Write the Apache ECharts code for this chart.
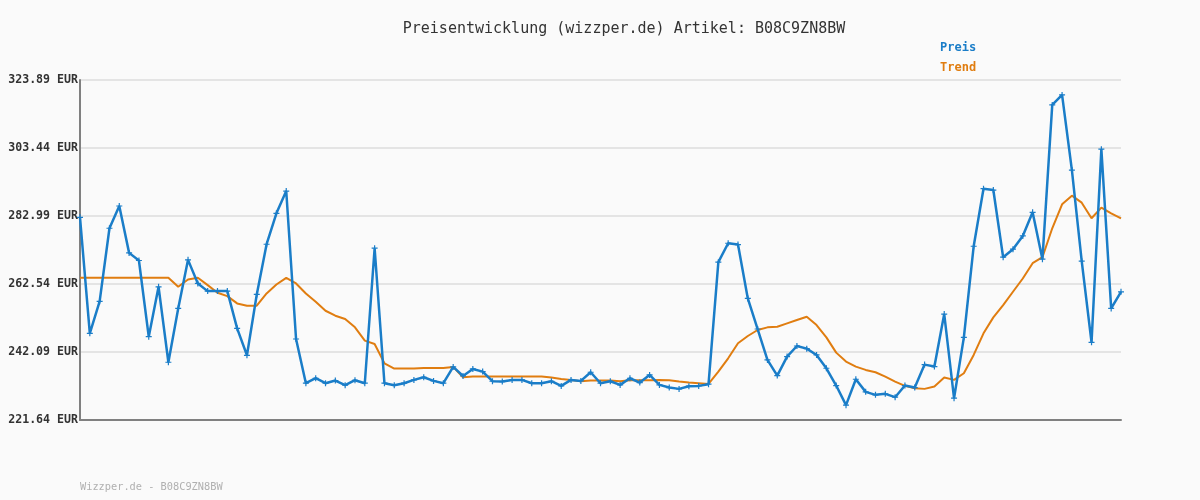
<!DOCTYPE html>
<html>
<head>
<meta charset="utf-8">
<script src="https://cdn.jsdelivr.net/npm/echarts@6/dist/echarts.min.js"></script>
<style>
  html, body { margin: 0; padding: 0; background: #fafafa; }
  #chart { width: 1200px; height: 500px; }
</style>
</head>
<body>
<div id="chart"></div>
<script>
// Preis pro Abruf (107 Messpunkte)
const preis = [
  282.6, 247.7, 257.3, 279.3, 286.0, 271.9, 269.6, 246.7, 261.7, 239.0,
  255.2, 269.8, 262.7, 260.4, 260.4, 260.4, 249.2, 241.1, 259.4, 274.5,
  283.8, 290.5, 246.0, 232.7, 234.2, 232.7, 233.5, 232.1, 233.6, 232.7,
  273.3, 232.7, 232.1, 232.7, 233.7, 234.5, 233.4, 232.7, 237.6, 234.9,
  237.0, 236.2, 233.3, 233.2, 233.7, 233.7, 232.7, 232.7, 233.3, 231.9,
  233.7, 233.4, 236.0, 232.7, 233.3, 232.2, 234.2, 232.9, 235.2, 232.2,
  231.4, 231.0, 231.8, 231.9, 232.4, 269.1, 274.8, 274.4, 258.2, 249.0,
  239.7, 235.0, 240.7, 243.9, 243.1, 241.2, 237.2, 232.0, 226.1, 233.9,
  230.1, 229.2, 229.5, 228.5, 232.0, 231.4, 238.3, 237.7, 253.5, 228.2,
  246.5, 273.9, 291.2, 290.8, 270.6, 273.0, 277.0, 284.1, 270.0, 316.4,
  319.4, 296.8, 269.4, 245.0, 303.1, 255.2, 260.2
];
const trend = [
  264.4, 264.4, 264.4, 264.4, 264.4, 264.4, 264.4, 264.4, 264.4, 264.4,
  261.7, 263.9, 264.4, 262.2, 259.9, 258.9, 256.7, 256.0, 256.0, 259.7,
  262.4, 264.4, 262.7, 259.7, 257.2, 254.5, 253.0, 252.0, 249.5, 245.5,
  244.5, 238.7, 237.1, 237.1, 237.1, 237.3, 237.3, 237.3, 237.6, 234.5,
  234.7, 234.7, 234.7, 234.7, 234.7, 234.7, 234.7, 234.7, 234.4, 234.0,
  233.7, 233.3, 233.5, 233.5, 233.5, 233.3, 233.6, 233.6, 233.6, 233.7,
  233.6, 233.2, 232.9, 232.7, 232.5, 236.2, 240.2, 244.7, 246.9, 248.7,
  249.5, 249.7, 250.7, 251.7, 252.7, 250.2, 246.5, 241.9, 239.2, 237.7,
  236.7, 236.0, 234.7, 233.2, 231.9, 231.2, 231.0, 231.7, 234.4, 233.7,
  235.7, 241.2, 247.7, 252.5, 256.2, 260.2, 264.2, 268.8, 270.6, 279.3,
  286.5, 289.1, 287.0, 282.3, 285.5, 283.8, 282.3
];
const kategorien = preis.map((_, i) => String(i + 1));
const yTicks = [221.64, 242.09, 262.54, 282.99, 303.44, 323.89];

const chart = echarts.init(document.getElementById('chart'));
const mono = '"DejaVu Sans Mono", "Liberation Mono", monospace';

chart.setOption({
  backgroundColor: '#fafafa',
  animation: false,
  title: {
    text: 'Preisentwicklung (wizzper.de) Artikel: B08C9ZN8BW',
    left: 619,
    textAlign: 'center',
    top: 17,
    textStyle: { fontFamily: mono, fontSize: 15, fontWeight: 'normal', color: '#333' }
  },
  legend: {
    orient: 'vertical',
    left: 935,
    top: 37,
    itemWidth: 0,
    itemHeight: 0,
    itemGap: 8,
    icon: 'rect',
    selectedMode: false,
    data: [
      { name: 'Preis', textStyle: { color: '#1a7dc8' } },
      { name: 'Trend', textStyle: { color: '#e07d10' } }
    ],
    textStyle: { fontFamily: mono, fontSize: 12, fontWeight: 'bold', padding: [0, 0, 0, -5] }
  },
  graphic: [{
    type: 'text',
    left: 80,
    top: 482,
    style: { text: 'Wizzper.de - B08C9ZN8BW', fill: '#b0b0b0', font: '10.3px ' + mono }
  }],
  grid: { left: 80, right: 79, top: 80, bottom: 80 },
  xAxis: {
    type: 'category',
    data: kategorien,
    boundaryGap: false,
    axisLine: { lineStyle: { color: '#808080', width: 2 } },
    axisTick: { show: false },
    axisLabel: { show: false },
    splitLine: { show: false }
  },
  yAxis: {
    type: 'value',
    min: yTicks[0],
    max: yTicks[yTicks.length - 1],
    axisLine: { show: true, lineStyle: { color: '#808080', width: 2 } },
    axisTick: { show: false, customValues: yTicks },
    axisLabel: {
      customValues: yTicks,
      margin: 2,
      formatter: v => v.toFixed(2) + ' EUR',
      fontFamily: mono, fontSize: 11.6, fontWeight: 'bold', color: '#333'
    },
    splitLine: { show: true, lineStyle: { color: '#e4e4e4', width: 2 } }
  },
  series: [
    {
      name: 'Preis',
      type: 'line',
      data: preis,
      color: '#1a7dc8',
      lineStyle: { width: 2.5, color: '#1a7dc8' },
      symbol: 'path://M2,0H3V2H5V3H3V5H2V3H0V2H2Z',
      symbolSize: 6,
      itemStyle: { color: '#1a7dc8' },
      z: 3
    },
    {
      name: 'Trend',
      type: 'line',
      data: trend,
      color: '#e07d10',
      lineStyle: { width: 2, color: '#e07d10' },
      showSymbol: false,
      symbol: 'none',
      z: 2
    }
  ]
});
</script>
</body>
</html>
